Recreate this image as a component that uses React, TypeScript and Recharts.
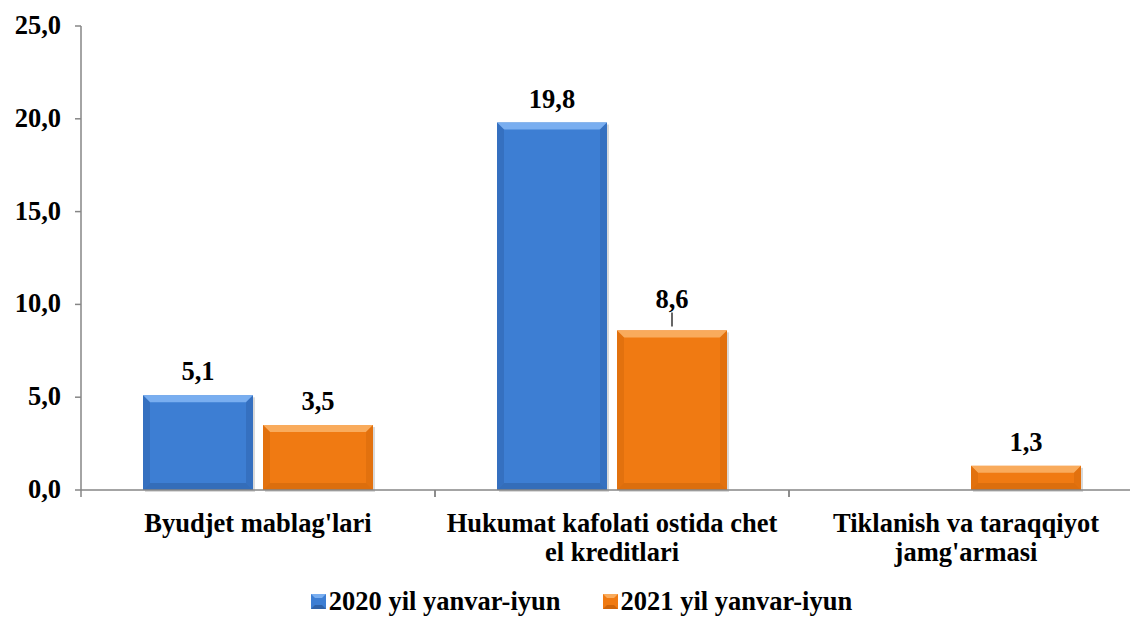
import React from "react";
import { BarChart, Bar, XAxis, YAxis, LabelList, Legend } from "recharts";

const categories = [
  "Byudjet mablag'lari",
  "Hukumat kafolati ostida chet\nel kreditlari",
  "Tiklanish va taraqqiyot\njamg'armasi",
];
const series2020 = [5.1, 19.8, null];
const series2021 = [3.5, 8.6, 1.3];
const yTicks = [0, 5, 10, 15, 20, 25];
const seriesNames = ["2020 yil yanvar-iyun", "2021 yil yanvar-iyun"];
const leaderCategories2021 = ["Hukumat kafolati ostida chet\nel kreditlari"];

const data = categories.map((c, i) => ({
  name: c,
  s2020: series2020[i],
  s2021: series2021[i],
}));

const FONT = "Liberation Serif, Tinos, Times New Roman, DejaVu Serif, serif";
const FS = 26.5;
const fmt = (v: number) => v.toFixed(1).replace(".", ",");

const palettes: Record<string, { main: string; top: string; side: string; bottom: string }> = {
  blue: { main: "#3d7ed3", top: "#79aef0", side: "#3168b4", bottom: "#2f62a8" },
  orange: { main: "#f07a12", top: "#f9ab5c", side: "#d96a0c", bottom: "#cf650a" },
};

const makeBevelBar = (pal: { main: string; top: string; side: string; bottom: string }) => (props: any) => {
  const { x, y, width, height } = props;
  if (height == null || height <= 0 || width <= 0) return null;
  const b = Math.min(7, height / 2, width / 2);
  return (
    <g>
      <rect x={x + 2} y={y + 2} width={width} height={height} fill="rgba(0,0,0,0.15)" />
      <rect x={x} y={y} width={width} height={height} fill={pal.main} />
      <polygon
        points={`${x},${y} ${x + width},${y} ${x + width - b},${y + b} ${x + b},${y + b}`}
        fill={pal.top}
      />
      <polygon
        points={`${x},${y} ${x + b},${y + b} ${x + b},${y + height - b} ${x},${y + height}`}
        fill={pal.side}
        opacity={0.6}
      />
      <polygon
        points={`${x + width},${y} ${x + width - b},${y + b} ${x + width - b},${y + height - b} ${x + width},${y + height}`}
        fill={pal.side}
        opacity={0.6}
      />
      <polygon
        points={`${x},${y + height} ${x + b},${y + height - b} ${x + width - b},${y + height - b} ${x + width},${y + height}`}
        fill={pal.bottom}
        opacity={0.6}
      />
    </g>
  );
};

const makeLabel = (seriesLeaders: string[]) => (props: any) => {
  const { x, y, width, value, index } = props;
  if (value == null) return null;
  const cx = x + width / 2;
  const hasLeader = seriesLeaders.includes(categories[index]);
  if (hasLeader) {
    return (
      <g>
        <line x1={cx} x2={cx} y1={y - 18} y2={y - 4} stroke="#000" strokeWidth={1.2} />
        <text x={cx} y={y - 22} textAnchor="middle" style={{ fontFamily: FONT, fontWeight: 700, fontSize: FS }} fill="#000">
          {fmt(value)}
        </text>
      </g>
    );
  }
  return (
    <text x={cx} y={y - 15} textAnchor="middle" style={{ fontFamily: FONT, fontWeight: 700, fontSize: FS }} fill="#000">
      {fmt(value)}
    </text>
  );
};

const CategoryTick = (props: any) => {
  const { x, y, payload } = props;
  const half = payload.offset ?? 176;
  const lines = String(payload.value).split("\n");
  return (
    <g>
      <line x1={x - half} x2={x - half} y1={y - 8} y2={y - 1} stroke="#868686" strokeWidth={1.5} />
      <line x1={x + half} x2={x + half} y1={y - 8} y2={y - 1} stroke="#868686" strokeWidth={1.5} />
      {lines.map((l, i) => (
        <text
          key={i}
          x={x}
          y={y + 34 + i * 29}
          textAnchor="middle"
          style={{ fontFamily: FONT, fontWeight: 700, fontSize: FS }}
          fill="#000"
        >
          {l}
        </text>
      ))}
    </g>
  );
};

const YTick = (props: any) => {
  const { x, y, payload } = props;
  return (
    <text x={x - 12} y={y + 8} textAnchor="end" style={{ fontFamily: FONT, fontWeight: 700, fontSize: FS }} fill="#000">
      {fmt(payload.value)}
    </text>
  );
};

const LegendIcon = ({ pal }: { pal: { main: string; top: string; side: string; bottom: string } }) => (
  <svg width={15} height={15} style={{ display: "inline-block", verticalAlign: "middle", marginRight: 3 }}>
    <rect x={0} y={0} width={15} height={15} fill={pal.main} />
    <polygon points="0,0 15,0 11,4 4,4" fill={pal.top} />
    <polygon points="0,15 4,11 11,11 15,15" fill={pal.bottom} />
  </svg>
);

const LegendContent = () => (
  <div
    style={{
      display: "flex",
      justifyContent: "center",
      alignItems: "center",
      fontFamily: FONT,
      fontWeight: 700,
      fontSize: FS,
      color: "#000",
      paddingLeft: 20,
    }}
  >
    <span style={{ display: "flex", alignItems: "center", marginRight: 42 }}>
      <LegendIcon pal={palettes.blue} />
      {seriesNames[0]}
    </span>
    <span style={{ display: "flex", alignItems: "center" }}>
      <LegendIcon pal={palettes.orange} />
      {seriesNames[1]}
    </span>
  </div>
);

export default function App() {
  return (
    <div
      style={{
        position: "absolute",
        left: 0,
        top: 0,
        width: 1130,
        height: 622,
        overflow: "hidden",
        background: "#fff",
      }}
    >
      <BarChart
        width={1145}
        height={622}
        data={data}
        margin={{ top: 26, right: 2, left: 0, bottom: 0 }}
        barSize={110}
        barGap={10}
      >
        <YAxis
          domain={[0, 25]}
          ticks={yTicks}
          width={81}
          axisLine={{ stroke: "#868686", strokeWidth: 1.5 }}
          tickLine={{ stroke: "#868686", strokeWidth: 1.5 }}
          tickSize={6}
          tick={<YTick />}
          interval={0}
        />
        <XAxis
          dataKey="name"
          height={96}
          axisLine={{ stroke: "#868686", strokeWidth: 1.5 }}
          tickLine={false}
          tick={<CategoryTick />}
          interval={0}
        />
        <Legend verticalAlign="bottom" height={36} content={<LegendContent />} />
        <Bar dataKey="s2020" name={seriesNames[0]} fill={palettes.blue.main} shape={makeBevelBar(palettes.blue)} isAnimationActive={false}>
          <LabelList dataKey="s2020" content={makeLabel([])} />
        </Bar>
        <Bar dataKey="s2021" name={seriesNames[1]} fill={palettes.orange.main} shape={makeBevelBar(palettes.orange)} isAnimationActive={false}>
          <LabelList dataKey="s2021" content={makeLabel(leaderCategories2021)} />
        </Bar>
      </BarChart>
    </div>
  );
}
